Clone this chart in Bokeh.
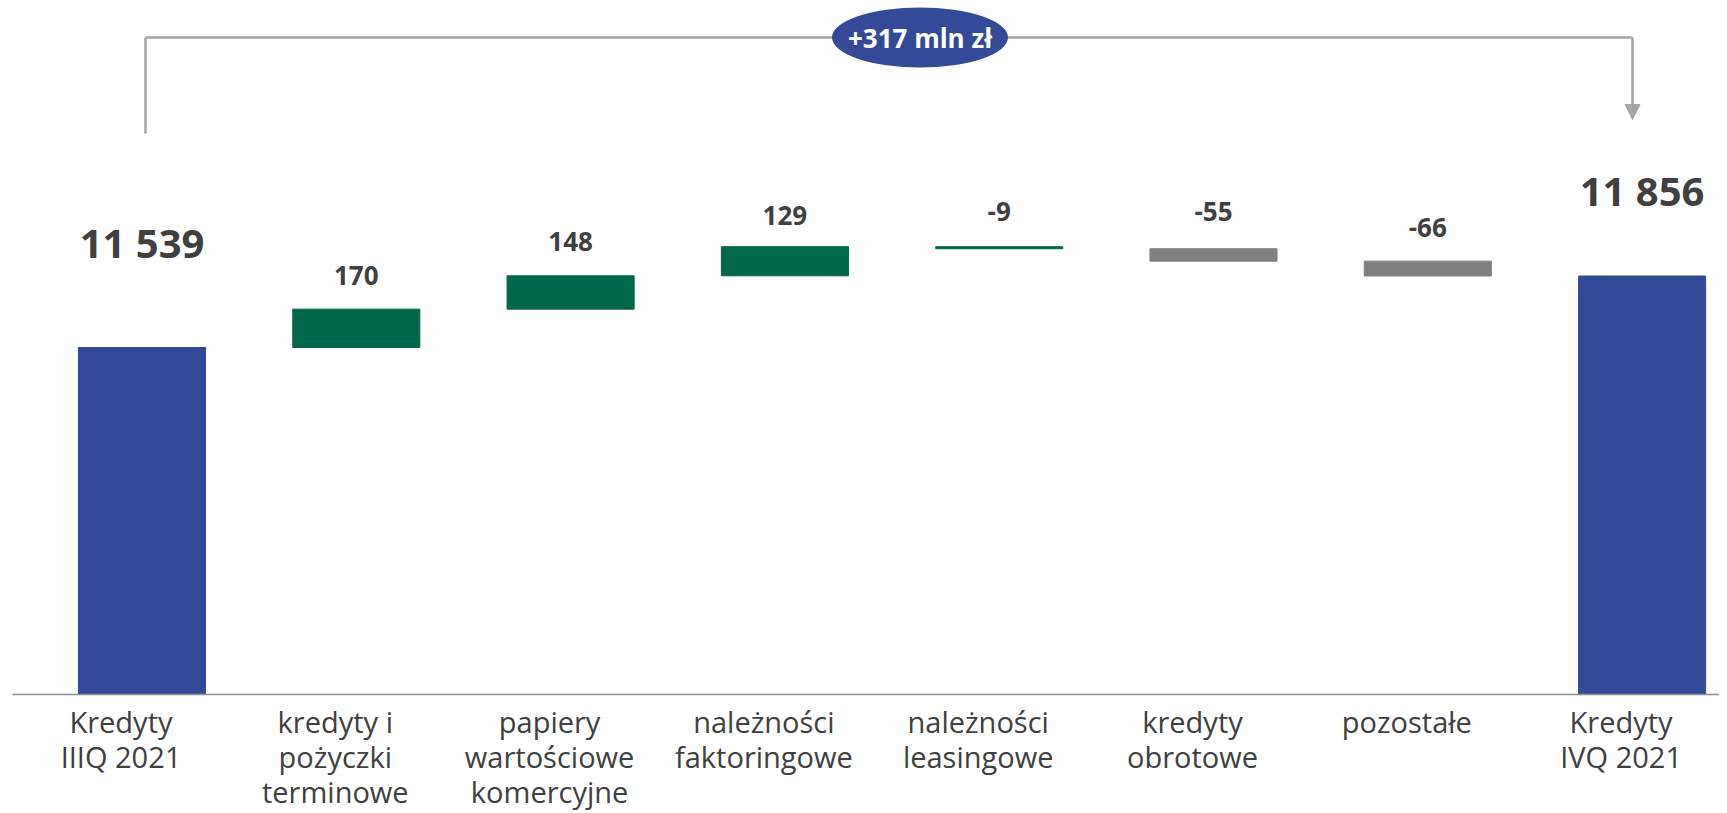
from bokeh.plotting import figure
from bokeh.models import Range1d, ColumnDataSource, Arrow, NormalHead
from bokeh.core.properties import value
from bokeh.embed import file_html
from bokeh.resources import INLINE

# ---- data ----
categories = [
    "Kredyty\nIIIQ 2021",
    "kredyty i\npożyczki\nterminowe",
    "papiery\nwartościowe\nkomercyjne",
    "należności\nfaktoringowe",
    "należności\nleasingowe",
    "kredyty\nobrotowe",
    "pozostałe",
    "Kredyty\nIVQ 2021",
]
start_value = 11539
changes = [170, 148, 129, -9, -55, -66]
end_value = 11856
axis_base = 10000

# ---- styles ----
BLUE = "#344A99"
GREEN = "#00684A"
GREY = "#808080"
TEXT = "#404040"
BRACKET = "#A6A6A6"
bar_colors = [BLUE, GREEN, GREEN, GREEN, GREEN, GREY, GREY, BLUE]
label_offsets = [105, 34, 34, 31, 35, 37, 34, 86]
label_sizes = ["40px", "26px", "26px", "26px", "26px", "26px", "26px", "40px"]

W, H = 1719, 813
UNITS_PER_PX = 4.435
BASE_PX = 694          # baseline position (px from top)
X0_PX = 141.5          # centre of first bar (px from left)
STEP_PX = 214.3

def ydata(py):
    return axis_base + (BASE_PX - py) * UNITS_PER_PX

def xdata(px):
    return (px - X0_PX) / STEP_PX

# ---- waterfall geometry ----
n = len(categories)
xs = list(range(n))
bottoms, tops = [axis_base], [start_value]
run = start_value
for c in changes:
    bottoms.append(run)
    run += c
    tops.append(run)
bottoms.append(axis_base)
tops.append(end_value)

def fmt(v):
    return f"{v:,}".replace(",", " ")

labels = [fmt(start_value)] + [fmt(c) for c in changes] + [fmt(end_value)]
label_y = [max(t, b) for t, b in zip(tops, bottoms)]

src = ColumnDataSource(dict(
    x=xs, top=tops, bottom=bottoms, color=bar_colors,
    label=labels, ly=label_y, off=[-o for o in label_offsets],
    size=label_sizes, cat=categories, base=[axis_base] * n,
))

p = figure(width=W, height=H, output_backend="svg", toolbar_location=None,
           x_range=Range1d(xdata(0), xdata(W)),
           y_range=Range1d(ydata(H), ydata(0)),
           min_border=0, outline_line_color=None)
p.axis.visible = False
p.grid.visible = False
p.background_fill_color = "white"
p.border_fill_color = "white"

p.vbar(x="x", top="top", bottom="bottom", width=0.593, color="color", source=src)

# axis line
p.segment(x0=[xdata(12)], y0=[axis_base], x1=[xdata(W)], y1=[axis_base],
          line_color="#8C8C8C", line_width=1.5)

# value labels
p.text(x="x", y="ly", text="label", y_offset="off", source=src,
       text_align="center", text_baseline="middle",
       text_font=value("Open Sans"), text_font_style="bold",
       text_font_size="size", text_color=TEXT)

# category labels
p.text(x="x", y="base", text="cat", source=src, x_offset=-21, y_offset=7,
       text_align="center", text_baseline="top",
       text_font=value("Open Sans"), text_font_size="29px",
       text_color=TEXT, text_line_height=0.9)

# bracket with arrow
top_y = ydata(37)
lx, rx = xdata(145), xdata(1632)
p.segment(x0=[lx, lx], y0=[ydata(133), top_y], x1=[lx, rx], y1=[top_y, top_y],
          line_color=BRACKET, line_width=2.5)
p.add_layout(Arrow(end=NormalHead(size=15, fill_color=BRACKET, line_color=BRACKET),
                   x_start=rx, y_start=top_y, x_end=rx, y_end=ydata(119),
                   line_color=BRACKET, line_width=2.5))

# delta bubble
delta = end_value - start_value
ex, ey = xdata(919.5), top_y
p.ellipse(x=[ex], y=[ey], width=176, height=60, width_units="screen",
          height_units="screen", fill_color=BLUE, line_color=None)
p.text(x=[ex], y=[ey], text=[f"{delta:+d} mln zł"], text_align="center",
       text_baseline="middle", text_font=value("Open Sans"),
       text_font_style="bold", text_font_size="26px", text_color="white")

open("out.html", "w").write(file_html(p, INLINE))
